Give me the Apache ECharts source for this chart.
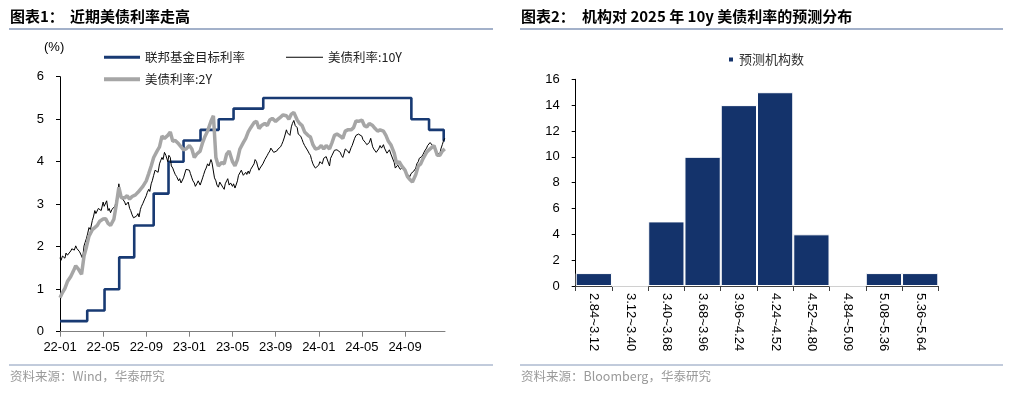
<!DOCTYPE html>
<html>
<head>
<meta charset="utf-8">
<script src="https://cdn.jsdelivr.net/npm/echarts@6/dist/echarts.min.js"></script>
<style>
html,body{margin:0;padding:0;background:#fff;}
#c{width:1024px;height:393px;}
</style>
</head>
<body>
<div id="c"></div>
<script>
// ---------- Data (left chart) ----------
const START_YEAR = 2022;
const N_MONTHS = 36;                               // 2022-01 .. 2024-12
const TEN_DAYS = [1, 4, 8, 11, 15, 18, 22, 26];   // 10Y observation days in each month
const TWO_DAYS = [1, 8, 15, 22];                   // 2Y observation days in each month
const tenY = [
  1.74,1.68,1.78,1.74,1.73,1.85,1.80,1.78,  1.90,1.95,1.98,1.92,2.02,1.96,1.92,1.88,
  1.78,1.72,2.02,2.10,2.20,2.30,2.45,2.40,  2.62,2.70,2.85,2.78,2.80,2.90,2.92,2.85,
  3.05,2.95,2.98,3.08,2.85,2.90,2.80,2.88,  2.88,2.95,3.10,3.20,3.48,3.30,3.20,3.12,
  3.05,2.98,2.95,3.05,2.90,2.85,2.75,2.68,  2.65,2.72,2.78,2.70,2.88,2.95,3.02,3.10,
  3.20,3.28,3.35,3.30,3.48,3.55,3.68,3.80,  3.82,3.75,3.95,4.02,4.10,4.05,4.22,4.15,
  4.00,4.15,4.10,3.90,3.85,3.78,3.70,3.65,  3.55,3.60,3.50,3.48,3.62,3.58,3.82,3.85,
  3.80,3.72,3.62,3.55,3.50,3.42,3.48,3.55,  3.45,3.52,3.62,3.70,3.80,3.85,3.95,3.90,
  4.05,3.98,3.98,3.62,3.55,3.45,3.40,3.52,  3.50,3.40,3.35,3.48,3.55,3.60,3.45,3.50,
  3.42,3.48,3.38,3.45,3.55,3.68,3.72,3.80,  3.68,3.72,3.75,3.70,3.78,3.72,3.82,3.78,
  3.95,4.05,4.00,3.90,3.80,3.85,3.88,3.95,  4.05,4.08,4.15,4.20,4.25,4.32,4.30,4.22,
  4.22,4.25,4.30,4.28,4.35,4.40,4.48,4.58,  4.75,4.68,4.70,4.62,4.82,4.90,4.97,4.85,
  4.80,4.65,4.62,4.60,4.52,4.45,4.38,4.40,  4.25,4.20,4.15,4.05,3.95,3.90,3.85,3.88,
  3.92,4.00,4.02,3.95,4.08,4.05,4.12,4.08,  3.90,4.08,4.15,4.18,4.27,4.30,4.28,4.25,
  4.22,4.15,4.10,4.18,4.30,4.32,4.25,4.20,  4.33,4.38,4.42,4.55,4.62,4.58,4.65,4.68,
  4.60,4.52,4.48,4.45,4.40,4.42,4.45,4.55,  4.35,4.30,4.28,4.22,4.25,4.30,4.38,4.32,
  4.40,4.32,4.25,4.20,4.22,4.28,4.18,4.15,  3.98,3.85,3.82,3.92,3.88,3.82,3.84,3.88,
  3.82,3.75,3.70,3.68,3.65,3.72,3.75,3.78,  3.85,3.95,4.00,4.08,4.05,4.12,4.18,4.25,
  4.32,4.38,4.35,4.45,4.42,4.38,4.40,4.28,  4.20,4.22,4.18,4.30,4.40,4.48,4.55
];
const twoY = [
  0.80,0.92,1.02,1.18, 1.30,1.42,1.55,1.48, 1.35,1.78,2.00,2.25, 2.40,2.45,2.50,2.60,
  2.65,2.66,2.55,2.50, 2.65,3.00,3.40,3.15, 3.15,3.20,3.12,3.18, 3.22,3.28,3.35,3.42,
  3.55,3.72,3.90,4.10, 4.25,4.35,4.60,4.55, 4.62,4.70,4.48,4.50, 4.42,4.35,4.28,4.30,
  4.38,4.30,4.10,4.18, 4.25,4.45,4.60,4.72, 4.95,5.08,4.10,3.90, 3.98,3.95,4.18,4.25,
  4.00,3.90,4.05,4.30, 4.45,4.55,4.70,4.80, 4.92,4.95,4.78,4.85, 4.90,4.85,4.98,5.02,
  4.95,5.00,5.05,5.10, 5.08,5.00,5.12,5.16, 4.98,4.90,4.85,4.70, 4.62,4.58,4.40,4.30,
  4.32,4.38,4.30,4.38, 4.30,4.45,4.62,4.65, 4.60,4.55,4.72,4.75, 4.75,4.80,4.96,4.95,
  4.98,4.85,4.82,4.90, 4.85,4.78,4.72,4.75, 4.72,4.62,4.48,4.40, 4.20,3.95,4.00,3.90,
  3.80,3.65,3.58,3.52, 3.70,3.90,3.95,4.08, 4.22,4.28,4.33,4.38, 4.15,4.15,4.25,4.30
];
const fedDates = ['2022-01-01','2022-03-17','2022-05-05','2022-06-16','2022-07-28','2022-09-22',
  '2022-11-03','2022-12-15','2023-02-02','2023-03-23','2023-05-04','2023-07-27',
  '2024-09-19','2024-11-08','2024-12-19','2024-12-22'];
const fedRates = [0.25,0.5,1.0,1.75,2.5,3.25,4.0,4.5,4.75,5.0,5.25,5.5,5.0,4.75,4.5,4.5];
const xTickLabels = ['22-01','22-05','22-09','23-01','23-05','23-09','24-01','24-05','24-09'];

// ---------- Data (right chart) ----------
const bucketLabels = ['2.84~3.12','3.12~3.40','3.40~3.68','3.68~3.96','3.96~4.24',
  '4.24~4.52','4.52~4.80','4.84~5.09','5.08~5.36','5.36~5.64'];
const bucketCounts = [1,0,5,10,14,15,4,0,1,1];

// ---------- helpers ----------
function monthPos(y, m, d) { return (y - START_YEAR) * 12 + (m - 1) + (d - 1) / 30.5; }
function strPos(s) { const p = s.split('-').map(Number); return monthPos(p[0], p[1], p[2]); }
function obsGrid(days) {
  const out = [];
  for (let i = 0; i < N_MONTHS; i++) {
    const y = START_YEAR + Math.floor(i / 12), m = i % 12 + 1;
    days.forEach(d => out.push(monthPos(y, m, d)));
  }
  return out;
}
const tenX = obsGrid(TEN_DAYS), twoX = obsGrid(TWO_DAYS);
const tenData = tenY.map((v, i) => [tenX[i], v]);
const twoData = twoY.map((v, i) => [twoX[i], v]);
const fedData = fedRates.map((v, i) => [strPos(fedDates[i]), v]);

const NUM_FONT = 'Liberation Sans, Arial, sans-serif';
const CJK_FONT = '"Noto Sans CJK SC", "Liberation Sans", sans-serif';
const NAVY = '#14336B';
const FED = '#183A73';
const GRAY = '#a6a6a6';

const chart = echarts.init(document.getElementById('c'), null, {renderer: 'canvas'});
const legendText = {fontFamily: CJK_FONT, fontSize: 12.5, color: '#222'};

chart.setOption({
  animation: false,
  backgroundColor: '#fff',
  textStyle: {fontFamily: NUM_FONT},
  grid: [
    {left: 60, top: 76.7, width: 385, height: 255, containLabel: false, outerBoundsMode: 'none'},
    {left: 575.7, top: 79.3, width: 362.6, height: 206.7, containLabel: false, outerBoundsMode: 'none'}
  ],
  legend: [
    {left: 104, top: 51, padding: 0, icon: 'rect', itemWidth: 36, itemHeight: 3, itemGap: 0,
     data: [{name: '联邦基金目标利率', itemStyle: {color: FED}}], textStyle: legendText, selectedMode: false},
    {left: 286, top: 51, padding: 0, icon: 'rect', itemWidth: 37, itemHeight: 1,
     data: [{name: '美债利率:10Y', itemStyle: {color: '#000'}}], textStyle: legendText, selectedMode: false},
    {left: 104, top: 73, padding: 0, icon: 'rect', itemWidth: 36, itemHeight: 4,
     data: [{name: '美债利率:2Y', itemStyle: {color: GRAY}}], textStyle: legendText, selectedMode: false},
    {left: 727, top: 53, padding: 0, itemWidth: 6, itemHeight: 6, icon: 'rect', data: ['预测机构数'],
     textStyle: {fontFamily: CJK_FONT, fontSize: 13, color: '#333'}, selectedMode: false}
  ],
  xAxis: [
    {
      type: 'value', gridIndex: 0, min: 0, max: 35.71, interval: 4,
      splitLine: {show: false},
      axisLine: {show: true, onZero: false, lineStyle: {color: '#7f7f7f', width: 1}},
      axisTick: {show: true, length: 5, lineStyle: {color: '#7f7f7f'}, customValues: [0,4,8,12,16,20,24,28,32]},
      axisLabel: {
        customValues: [0,4,8,12,16,20,24,28,32],
        margin: 9, fontSize: 13, color: '#000', fontFamily: NUM_FONT,
        formatter: v => xTickLabels[Math.round(v / 4)] || ''
      }
    },
    {
      type: 'category', gridIndex: 1, data: bucketLabels, boundaryGap: true,
      axisLine: {show: true, lineStyle: {color: '#404040', width: 1}},
      axisTick: {show: true, alignWithLabel: false, length: 5, lineStyle: {color: '#404040'}},
      axisLabel: {interval: 0, rotate: -90, margin: 7, fontSize: 13, color: '#000', fontFamily: NUM_FONT}
    }
  ],
  yAxis: [
    {
      type: 'value', gridIndex: 0, min: 0, max: 6, interval: 1,
      splitLine: {show: false},
      axisLine: {show: true, lineStyle: {color: '#000', width: 1}},
      axisTick: {show: true, length: 4, lineStyle: {color: '#000'}},
      axisLabel: {margin: 16, fontSize: 13, color: '#000', fontFamily: NUM_FONT}
    },
    {
      type: 'value', gridIndex: 1, min: 0, max: 16, interval: 2,
      splitLine: {show: false},
      axisLine: {show: true, lineStyle: {color: '#000', width: 1}},
      axisTick: {show: true, length: 4, lineStyle: {color: '#000'}},
      axisLabel: {margin: 16, fontSize: 13, color: '#000', fontFamily: NUM_FONT}
    }
  ],
  series: [
    {
      name: '联邦基金目标利率', type: 'line', xAxisIndex: 0, yAxisIndex: 0,
      data: fedData, step: 'end', symbol: 'none', color: FED,
      lineStyle: {width: 2.6, color: FED}
    },
    {
      name: '美债利率:10Y', type: 'line', xAxisIndex: 0, yAxisIndex: 0,
      data: tenData, symbol: 'none', color: '#000',
      lineStyle: {width: 1, color: '#000'}
    },
    {
      name: '美债利率:2Y', type: 'line', xAxisIndex: 0, yAxisIndex: 0,
      data: twoData, symbol: 'none', color: GRAY,
      lineStyle: {width: 3.5, color: GRAY}
    },
    {
      name: '预测机构数', type: 'bar', xAxisIndex: 1, yAxisIndex: 1,
      data: bucketCounts, barCategoryGap: '0%', color: NAVY,
      itemStyle: {color: NAVY, borderColor: '#fff', borderWidth: 1}
    }
  ],
  graphic: [
    {type: 'text', left: 10, top: 9, style: {text: '图表1：', font: 'bold 15px ' + CJK_FONT, fill: '#000'}},
    {type: 'text', left: 70, top: 9, style: {text: '近期美债利率走高', font: 'bold 15px ' + CJK_FONT, fill: '#000'}},
    {type: 'text', left: 521, top: 9, style: {text: '图表2：', font: 'bold 15px ' + CJK_FONT, fill: '#000'}},
    {type: 'text', left: 582, top: 9, style: {text: '机构对 2025 年 10y 美债利率的预测分布', font: 'bold 15px ' + CJK_FONT, fill: '#000'}},
    {type: 'line', shape: {x1: 9, y1: 29, x2: 493, y2: 29}, style: {stroke: '#8497b8', lineWidth: 1.5}},
    {type: 'line', shape: {x1: 520, y1: 29, x2: 1003, y2: 29}, style: {stroke: '#8497b8', lineWidth: 1.5}},
    {type: 'line', shape: {x1: 9, y1: 365, x2: 493, y2: 365}, style: {stroke: '#8497b8', lineWidth: 1}},
    {type: 'line', shape: {x1: 520, y1: 365, x2: 1003, y2: 365}, style: {stroke: '#8497b8', lineWidth: 1}},
    {type: 'text', left: 44, top: 41, style: {text: '(%)', font: '13px ' + NUM_FONT, fill: '#000'}},
    {type: 'text', left: 10, top: 370, style: {text: '资料来源：Wind，华泰研究', font: '12.5px ' + CJK_FONT, fill: '#9a9a9a'}},
    {type: 'text', left: 521, top: 370, style: {text: '资料来源：Bloomberg，华泰研究', font: '12.5px ' + CJK_FONT, fill: '#9a9a9a'}}
  ]
});
</script>
</body>
</html>
